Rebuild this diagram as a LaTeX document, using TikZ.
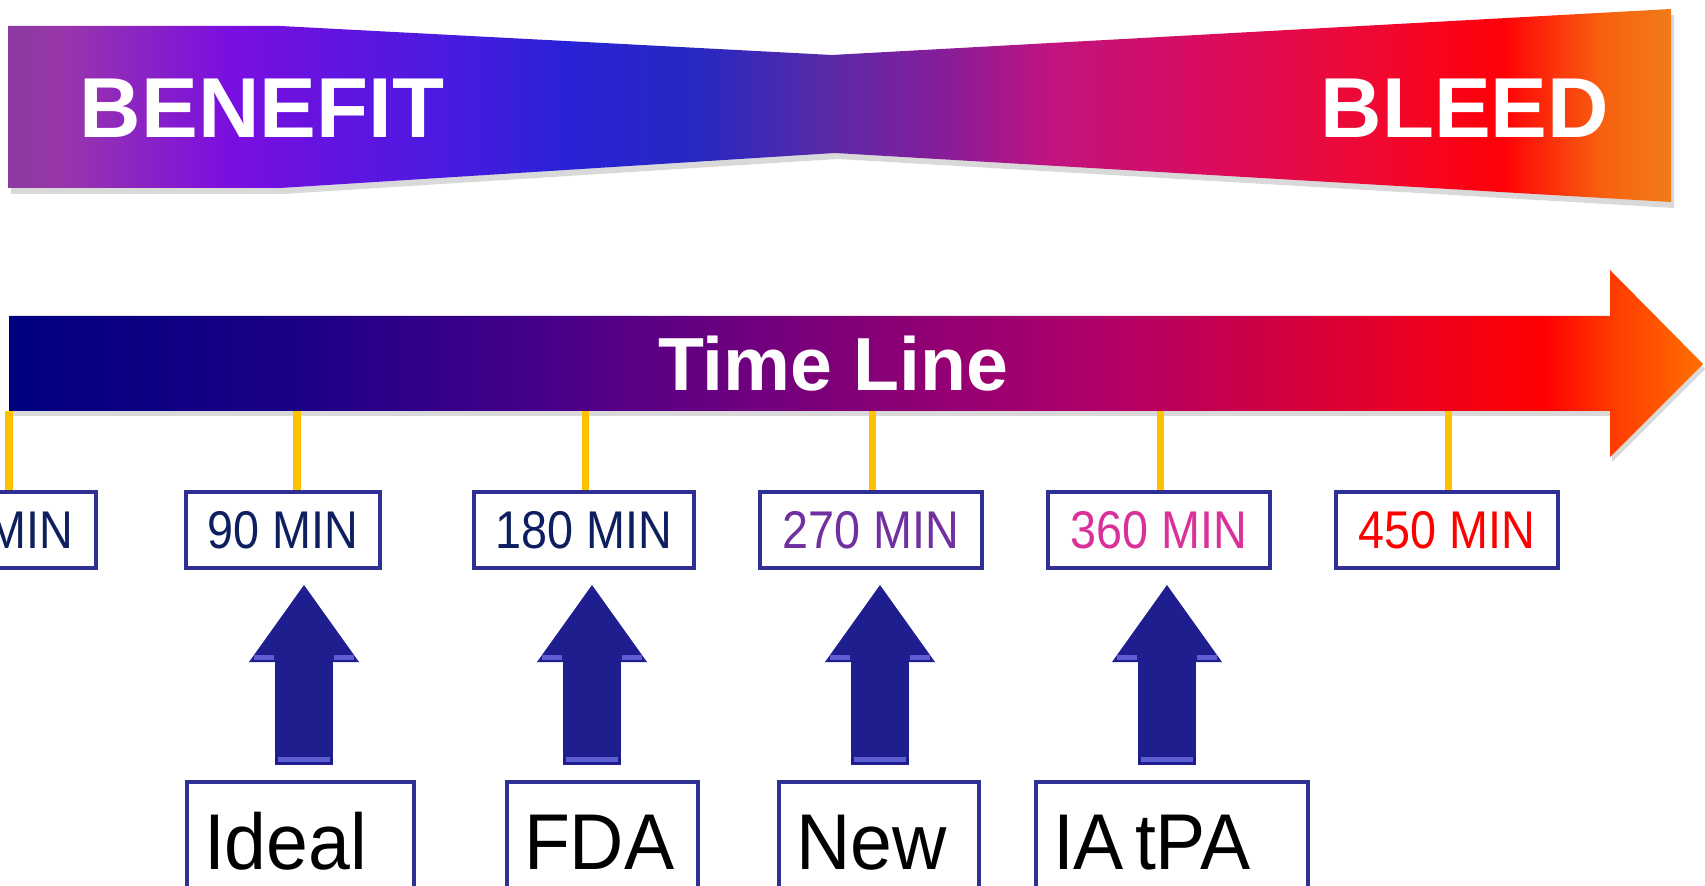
\documentclass[tikz,border=0pt]{standalone}
\usepackage{fontspec}
\setmainfont{Liberation Sans}
\newfontfamily\minfont[FakeStretch=0.88]{Liberation Sans}
\newfontfamily\labfont[FakeStretch=0.95]{Liberation Sans}
\usetikzlibrary{arrows.meta,shadows}

\definecolor{boxblue}{HTML}{2E3192}
\definecolor{tickgold}{HTML}{FFC000}
\definecolor{navytext}{HTML}{0D1F5E}
\definecolor{purpletext}{HTML}{7030A0}
\definecolor{pinktext}{HTML}{D9309A}
\definecolor{redtext}{HTML}{FF0000}
\definecolor{arrowblue}{HTML}{1E1E8E}
\definecolor{arrowlight}{HTML}{6A6AE0}

% benefit / bleed band
\definecolor{bandA}{HTML}{8A3AA0}
\definecolor{bandB}{HTML}{9A36AA}
\definecolor{bandC}{HTML}{7A0EE0}
\definecolor{bandD}{HTML}{4A1AE0}
\definecolor{bandE}{HTML}{2A22D8}
\definecolor{bandF}{HTML}{2828C0}
\definecolor{bandG}{HTML}{5A2AA8}
\definecolor{bandH}{HTML}{8A1C98}
\definecolor{bandI}{HTML}{C01480}
\definecolor{bandJ}{HTML}{D80C60}
\definecolor{bandK}{HTML}{F00830}
\definecolor{bandL}{HTML}{FF0008}
\definecolor{bandM}{HTML}{F86010}
\definecolor{bandN}{HTML}{F07C18}
\pgfdeclarehorizontalshading{bandshade}{100bp}{color(0bp)=(bandA); color(25bp)=(bandA);
  color(26.6bp)=(bandB); color(31.7bp)=(bandC); color(38.3bp)=(bandD); color(41.6bp)=(bandE);
  color(45.8bp)=(bandF); color(49.7bp)=(bandG); color(53.3bp)=(bandH); color(56.3bp)=(bandI);
  color(60.8bp)=(bandJ); color(66.3bp)=(bandK); color(69.9bp)=(bandL); color(72.9bp)=(bandM);
  color(75bp)=(bandN); color(100bp)=(bandN)}

% time line arrow
\definecolor{lineA}{HTML}{00007E}
\definecolor{lineB}{HTML}{1C0086}
\definecolor{lineC}{HTML}{4A008A}
\definecolor{lineD}{HTML}{820078}
\definecolor{lineE}{HTML}{B0006A}
\definecolor{lineF}{HTML}{D4003C}
\definecolor{lineG}{HTML}{F0001C}
\definecolor{lineH}{HTML}{FF0000}
\definecolor{lineI}{HTML}{FF3A00}
\definecolor{lineJ}{HTML}{FF7000}
\pgfdeclarehorizontalshading{lineshade}{100bp}{color(0bp)=(lineA); color(25bp)=(lineA);
  color(33.6bp)=(lineB); color(41.3bp)=(lineC); color(49.8bp)=(lineD); color(57.2bp)=(lineE);
  color(63.1bp)=(lineF); color(67.2bp)=(lineG); color(70.3bp)=(lineH); color(72.3bp)=(lineI);
  color(75bp)=(lineJ); color(100bp)=(lineJ)}

\begin{document}
\begin{tikzpicture}[x=0.01cm, y=-0.01cm,
    minbox/.style={draw=boxblue, line width=0.04cm, fill=white, minimum height=0.76cm,
      font=\minfont\fontsize{15.1pt}{18pt}\selectfont},
    labbox/.style={draw=boxblue, line width=0.04cm, anchor=north west, align=left,
      inner xsep=0.17cm, inner ysep=0.29cm, text height=0.58cm, text depth=0pt,
      font=\labfont\fontsize{22.5pt}{26pt}\selectfont},
    tickline/.style={draw=tickgold, line width=0.07cm},
    blockarrow/.style={draw=arrowblue, line width=0.57cm, shorten <=0.15cm, shorten >=0.15cm,
      -{Triangle[width=1.1cm, length=0.77cm, line width=0pt]}},
    bevel/.style={draw=arrowlight, line width=0.05cm, opacity=0.85},
    bigword/.style={text=white, font=\bfseries\fontsize{24.2pt}{28pt}\selectfont}]
    \useasboundingbox (0,0) rectangle (1705,886);

    \path[shading=bandshade, drop shadow={opacity=0.3, shadow xshift=0.03cm, shadow yshift=-0.06cm}]
        (8,26) -- (280,26) -- (832,55) -- (1671,9) -- (1671,202) -- (835,153) -- (280,188) -- (8,188) -- cycle;
    \node[bigword] (benefit) at (262,108) {BENEFIT};
    \node[bigword] (bleed) at (1465,108) {BLEED};

    \path[shading=lineshade, drop shadow={opacity=0.3, shadow xshift=0.02cm, shadow yshift=-0.05cm}]
        (9,316) -- (1610,316) -- (1610,270) -- (1703,364) -- (1610,457) -- (1610,411) -- (9,411) -- cycle;
    \node[text=white, font=\bfseries\fontsize{21.4pt}{25pt}\selectfont] (timeline) at (833,364) {Time Line};

    \node[minbox, minimum width=1.94cm, text width=1.49cm, align=right, text=navytext] (m0) at (-1,530) {MIN};
    \node[minbox, minimum width=1.94cm, text=navytext] (m90) at (283,530) {90 MIN};
    \node[minbox, minimum width=2.20cm, text=navytext] (m180) at (584,530) {180 MIN};
    \node[minbox, minimum width=2.21cm, text=purpletext] (m270) at (871,530) {270 MIN};
    \node[minbox, minimum width=2.21cm, text=pinktext] (m360) at (1159,530) {360 MIN};
    \node[minbox, minimum width=2.21cm, text=redtext] (m450) at (1447,530) {450 MIN};

    \coordinate (t0) at (9,411);
    \coordinate (t90) at (297,411);
    \coordinate (t180) at (585,411);
    \coordinate (t270) at (872,411);
    \coordinate (t360) at (1160,411);
    \coordinate (t450) at (1448,411);
    \draw[tickline] (t0) -- (t0 |- m0.north);
    \draw[tickline] (t90) -- (t90 |- m90.north);
    \draw[tickline] (t180) -- (t180 |- m180.north);
    \draw[tickline] (t270) -- (t270 |- m270.north);
    \draw[tickline] (t360) -- (t360 |- m360.north);
    \draw[tickline] (t450) -- (t450 |- m450.north);

    \node[labbox, text width=1.93cm] (ideal) at (185,780) {Ideal};
    \node[labbox, text width=1.57cm] (fda) at (505,780) {FDA};
    \node[labbox, text width=1.66cm] (new) at (777,780) {New};
    \node[labbox, text width=2.38cm] (iatpa) at (1034,780) {IA\hspace{0.11cm}tPA};

    \coordinate (a90) at (304,0);
    \coordinate (a180) at (592,0);
    \coordinate (a270) at (880,0);
    \coordinate (a360) at (1167,0);
    \draw[blockarrow] (ideal.north -| a90) -- (m90.south -| a90);
    \draw[blockarrow] (fda.north -| a180) -- (m180.south -| a180);
    \draw[blockarrow] (new.north -| a270) -- (m270.south -| a270);
    \draw[blockarrow] (iatpa.north -| a360) -- (m360.south -| a360);

    % light bevel on the shoulders and the foot of each arrow
    \foreach \x in {304,592,880,1167} {
        \draw[bevel] (\x-50,658) -- (\x-30,658);
        \draw[bevel] (\x+30,658) -- (\x+50,658);
        \draw[bevel] (\x-26,760) -- (\x+26,760);
    }
\end{tikzpicture}
\end{document}
